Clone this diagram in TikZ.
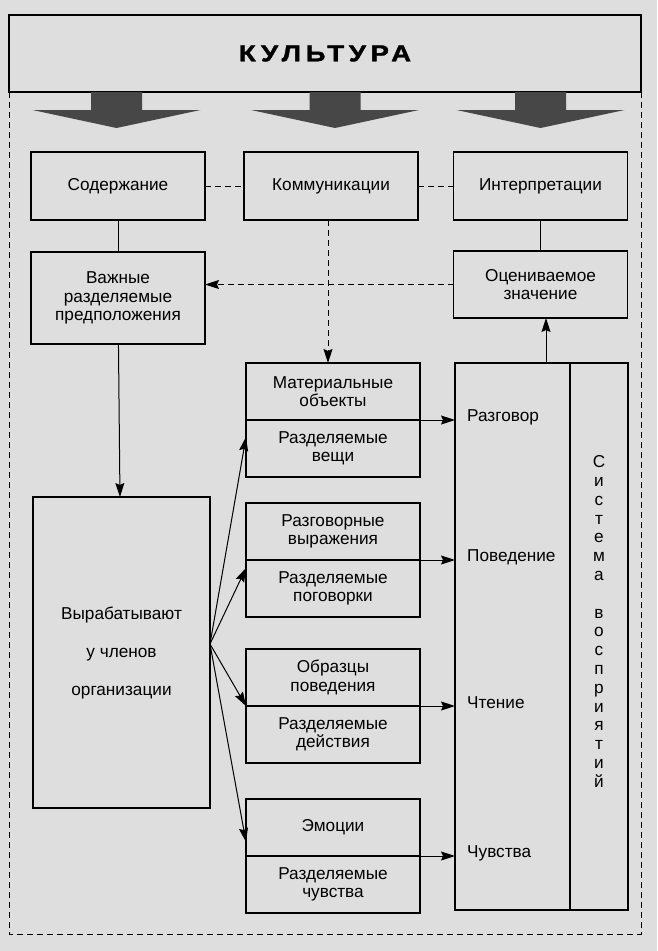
\documentclass[tikz,border=0pt]{standalone}
\usepackage{fontspec}
\setmainfont{Liberation Sans}
\newfontfamily\titlefont[LetterSpace=20, FakeStretch=1.2, FakeBold=1.5]{Liberation Sans Bold}
\usetikzlibrary{arrows.meta, positioning, calc}
\newcommand{\boxfont}{\fontsize{17.2}{18.5}\selectfont}

\begin{document}
\begin{tikzpicture}[x=1pt, y=-1pt, node distance=32pt,
    box/.style={rectangle, draw, line width=1.1pt, minimum width=174pt, align=center, inner sep=2pt, outer sep=0pt, font=\boxfont},
    half/.style={box, minimum height=57pt},
    lbl/.style={anchor=west, inner sep=0pt, font=\boxfont},
    dline/.style={line width=1pt, dash pattern=on 6pt off 4pt},
    arrow/.style={line width=1pt, -{Stealth[length=14pt, width=9pt, inset=2pt]}},
    bigarrow/.style={fill=black!72, draw=none}]
    \fill[black!13] (0,0) rectangle (657,951);
    \node [box, minimum width=632pt, minimum height=77pt] (cult) at (325,53.5) {\titlefont\fontsize{23}{26}\selectfont КУЛЬТУРА};
    \draw [dline] (cult.south west) -- (cult.south west |- 0,934) -- (cult.south east |- 0,934) -- (cult.south east);
    \foreach \x in {116.5,335,540.5}
        \fill [bigarrow] (\x-25.5,92) -- (\x+25.5,92) -- (\x+25.5,110) -- (\x+84,110) -- (\x,128) -- (\x-84,110) -- (\x-25.5,110) -- cycle;
    \node [box, minimum height=68pt] (sod) at (118,186) {Содержание};
    \node [box, minimum height=68pt] (komm) at (331,186) {Коммуникации};
    \node [box, minimum height=68pt] (interp) at (540.5,186) {Интерпретации};
    \node [box, minimum height=92pt, below=of sod] (vazh) {Важные\\разделяемые\\предположения};
    \node [box, minimum height=67pt, below=31pt of interp] (ocen) {Оцениваемое\\значение};
    \node [half] (mat) at (333,391.5) {Материальные\\объекты};
    \node [half, below=0pt of mat] (matsh) {Разделяемые\\вещи};
    \node [half] (razg) at (333,531.5) {Разговорные\\выражения};
    \node [half, below=0pt of razg] (razgsh) {Разделяемые\\поговорки};
    \node [half] (obr) at (333,677.5) {Образцы\\поведения};
    \node [half, below=0pt of obr] (obrsh) {Разделяемые\\действия};
    \node [half] (emo) at (333,827.5) {Эмоции};
    \node [half, below=0pt of emo] (emosh) {Разделяемые\\чувства};
    \node [box, minimum width=115pt, minimum height=547pt] (perc) at (512.5,636.5) {};
    \node [box, minimum width=58pt, minimum height=547pt, right=0pt of perc] (sys) {};
    \node [font=\fontsize{17.2}{18.8}\selectfont, align=center, inner sep=0pt, yshift=15pt] (syslbl) at (sys) {С\\и\\с\\т\\е\\м\\а\\[18.8pt]в\\о\\с\\п\\р\\и\\я\\т\\и\\й};
    \node [box, minimum width=177pt, minimum height=311pt] (vyr) at (121.5,652.5) {Вырабатывают\\[19.5pt]у членов\\[19.5pt]организации};
    \coordinate (fan) at ([yshift=8.5pt]vyr.east);
    \draw [dline] (sod) -- (komm);
    \draw [dline] (komm) -- (interp);
    \draw [line width=1pt] (sod) -- (vazh);
    \draw [line width=1pt] (interp) -- (ocen);
    \draw [dline, arrow] (ocen) -- (ocen -| vazh.east);
    \draw [dline, arrow] (komm.south -| 328,0) -- (mat.north -| 328,0);
    \draw [arrow] (perc.north -| 546,0) -- (ocen.south -| 546,0);
    \draw [arrow] (vazh) -- (vyr);
    \draw [arrow] (fan) -- ([yshift=-17pt]matsh.north west);
    \draw [arrow] (fan) -- ([yshift=-8pt]razgsh.north west);
    \draw [arrow] (fan) -- (obrsh.north west);
    \draw [arrow] (fan) -- ([yshift=14pt]emo.south west);
    \foreach \b/\t in {mat/Разговор, razg/Поведение, obr/Чтение, emo/Чувства} {
        \draw [arrow] (\b.south west) -- (\b.south west -| perc.west);
        \node [lbl, xshift=12pt, yshift=3pt] (l\b) at (\b.south west -| perc.west) {\t};
    }
\end{tikzpicture}
\end{document}
